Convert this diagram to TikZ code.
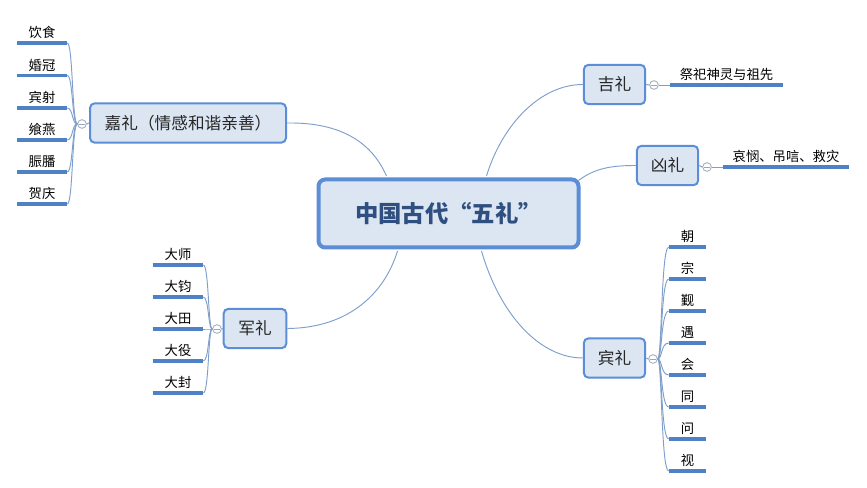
\documentclass[tikz,border=0pt]{standalone}
\usepackage{fontspec}
\setmainfont{Noto Sans CJK SC}
\usetikzlibrary{calc}
\definecolor{nodefill}{HTML}{DCE6F2}
\definecolor{nodeborder}{HTML}{5B8ED6}
\definecolor{conncol}{HTML}{7E9FCB}
\definecolor{leafln}{HTML}{4F81C7}
\definecolor{maintext}{HTML}{2E4F80}
\definecolor{circ}{HTML}{9AA8BB}
\begin{document}
\begin{tikzpicture}[x=0.75pt,y=-0.75pt,
  mainbox/.style={draw=nodeborder, line width=3pt, fill=nodefill, rounded corners=5pt,
    minimum width=195pt, minimum height=51pt, inner sep=0pt,
    font=\bfseries\fontsize{17.5}{20}\selectfont, text=maintext},
  childbox/.style={draw=nodeborder, line width=1.5pt, fill=nodefill, rounded corners=3.5pt,
    minimum height=29.5pt, inner sep=0pt, font=\fontsize{12.5}{15}\selectfont, text=black!85},
  fold/.style={circle, draw=circ, line width=0.6pt, fill=white, minimum size=6.5pt, inner sep=0pt,
    path picture={\draw[circ, line width=0.6pt] ($(path picture bounding box.center)+(-2pt,0)$) -- ($(path picture bounding box.center)+(2pt,0)$);}},
  leaf/.style={anchor=south, inner xsep=0pt, inner ysep=3pt, font=\fontsize{10}{12}\selectfont, text=black},
  leafline/.style={draw=leafln, line width=2.3pt},
  connline/.style={draw=conncol, line width=0.7pt}
]
\useasboundingbox (0,0) rectangle (867,488);
\fill[white] (0,0) rectangle (867,488);

% central
\node[mainbox] (c) at (448.5,213.5) {中国古代“五礼”};

% children
\node[childbox, minimum width=147pt] (jia) at (188,123) {嘉礼（情感和谐亲善）};
\node[childbox, minimum width=46pt] (ji) at (614.5,84.5) {吉礼};
\node[childbox, minimum width=46pt] (xiong) at (667.5,165.5) {凶礼};
\node[childbox, minimum width=47pt] (jun) at (255,328.5) {军礼};
\node[childbox, minimum width=46pt] (bin) at (614.5,358) {宾礼};

% center to children
\draw[connline] (jia.east) .. controls (350,122) and (375,150) .. ($(c.north)+(-62,-1.5)$);
\draw[connline] ($(c.north)+(38,-1.5)$) .. controls (502,125) and (540,84.5) .. (ji.west);
\draw[connline] ($(c.north east)+(-2,3)$) .. controls (595,168) and (612,165.5) .. (xiong.west);
\draw[connline] (jun.east) .. controls (350,328) and (385,292) .. ($(c.south)+(-51,1.5)$);
\draw[connline] ($(c.south)+(33,1.5)$) .. controls (500,315) and (540,358) .. (bin.west);

% fold circles
\node[fold] (fjia) at (82,124) {};
\node[fold] (fji) at (654,85) {};
\node[fold] (fxiong) at (707,167) {};
\node[fold] (fjun) at (217,329) {};
\node[fold] (fbin) at (653,359) {};

\draw[connline] (jia.west) -- (fjia.east);
\draw[connline] (ji.east) -- (fji.west);
\draw[connline] (xiong.east) -- (fxiong.west);
\draw[connline] (jun.west) -- (fjun.east);
\draw[connline] (bin.east) -- (fbin.west);

% 吉礼 leaf
\node[leaf, minimum width=84.75pt] (ji1) at (726.5,85) {祭祀神灵与祖先};
\draw[connline] (fji.east) -- (ji1.south west);
\draw[leafline] (ji1.south west) -- (ji1.south east);

% 凶礼 leaf
\node[leaf, minimum width=94.5pt] (xiong1) at (786,167) {哀悯、吊唁、救灾};
\draw[connline] (fxiong.east) -- (xiong1.south west);
\draw[leafline] (xiong1.south west) -- (xiong1.south east);

% 嘉礼 leaves
\foreach \t/\y [count=\i] in {饮食/43,婚冠/75.5,宾射/108,飨燕/140,脤膰/172,贺庆/204}{
  \node[leaf, minimum width=37.5pt] (jl\i) at (42,\y) {\t};
  \draw[connline] (fjia.west) .. controls (72,124) and (73,\y) .. (jl\i.south east);
  \draw[leafline] (jl\i.south west) -- (jl\i.south east);
}

% 军礼 leaves
\foreach \t/\y [count=\i] in {大师/265,大钧/297,大田/329,大役/361,大封/393}{
  \node[leaf, minimum width=37.5pt] (jn\i) at (178,\y) {\t};
  \draw[connline] (fjun.west) .. controls (208,329) and (209,\y) .. (jn\i.south east);
  \draw[leafline] (jn\i.south west) -- (jn\i.south east);
}

% 宾礼 leaves
\foreach \t/\y [count=\i] in {朝/247,宗/279,觐/311,遇/343,会/375,同/407,问/439,视/471}{
  \node[leaf, minimum width=27.75pt] (bl\i) at (687.5,\y) {\t};
  \draw[connline] (fbin.east) .. controls (662,359) and (661,\y) .. (bl\i.south west);
  \draw[leafline] (bl\i.south west) -- (bl\i.south east);
}
\end{tikzpicture}
\end{document}
